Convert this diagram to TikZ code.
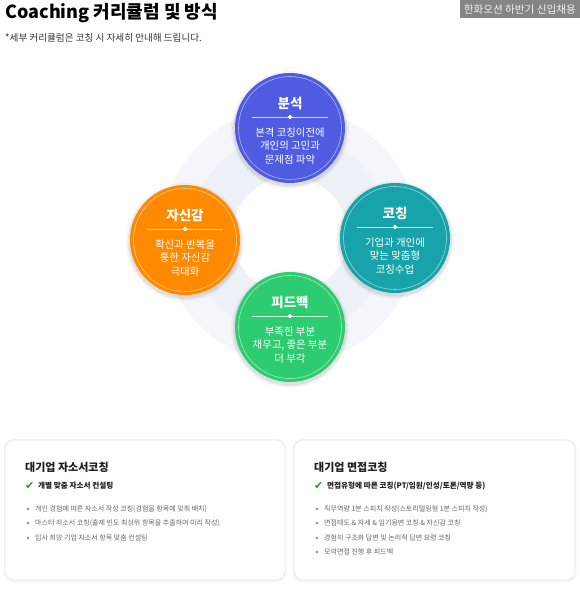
\documentclass[tikz,border=0pt]{standalone}
\usepackage{fontspec}
\setmainfont{Noto Sans CJK KR}
\newfontfamily\dejavu{DejaVu Sans}
\usetikzlibrary{shapes.geometric}
\definecolor{cblue}{HTML}{4F5CE2}
\definecolor{corange}{HTML}{FF8A00}
\definecolor{cteal}{HTML}{17A3A9}
\definecolor{cgreen}{HTML}{2ECC71}
\definecolor{ringout}{HTML}{F4F6FB}
\definecolor{ringin}{HTML}{EDF1F8}
\definecolor{txtdark}{HTML}{1E1E1E}
\definecolor{txtgrey}{HTML}{666666}
\definecolor{chk}{HTML}{2E9B2E}
\tikzset{
  bubble/.style={circle, minimum size=110pt, inner sep=0pt, draw=none},
  btitle/.style={text=white, font=\fontsize{13.5}{15}\selectfont\bfseries, inner sep=0pt},
  bbody/.style={text=white, font=\fontsize{10.4}{13.4}\selectfont, align=center, inner sep=0pt},
  card/.style={draw=black!9, fill=white, rounded corners=9pt, line width=0.7pt},
  chead/.style={anchor=west, text=txtdark, font=\fontsize{11}{13}\selectfont\bfseries, inner sep=0pt},
  ccheck/.style={anchor=west, text=txtdark, font=\fontsize{7.6}{9}\selectfont\bfseries, inner sep=0pt},
  cbullet/.style={anchor=west, text=txtgrey, font=\fontsize{7}{9}\selectfont, inner sep=0pt},
  dotmark/.style={circle, fill=black!45, minimum size=2.6pt, inner sep=0pt},
  chkmark/.style={anchor=west, inner sep=0pt, text=chk, font=\dejavu\fontsize{11}{12}\selectfont},
}
\newcommand{\mybubble}[6]{%
  \foreach \r/\o in {59/0.03,57.5/0.04,56.5/0.05} {\fill[black, opacity=\o] (#3,#4+2) circle[radius=\r pt];}
  \node[bubble, fill=#2] (#1) at (#3,#4) {};
  \draw[white, opacity=0.55, line width=0.6pt] (#1.center) circle[radius=51.5pt];
  \node[btitle] (#1t) at (#3,#4-25) {#5};
  \coordinate (#1l) at (#3-38,#4-11);
  \coordinate (#1r) at (#3+38,#4-11);
  \draw[white, opacity=0.8, line width=0.5pt] (#1l) -- (#1r);
  \node[fill=white, diamond, inner sep=0pt, minimum size=5pt] (#1d) at (#3,#4-11) {};
  \node[bbody] (#1b) at (#3,#4+18) {#6};
}
\begin{document}
\begin{tikzpicture}[x=1pt, y=-1pt]
\useasboundingbox (0,0) rectangle (580,589);
\fill[white] (0,0) rectangle (580,589);
% header
\node[anchor=west, inner sep=0pt, text=black, font=\fontsize{18}{20}\selectfont\bfseries] (title) at (5,13) {Coaching 커리큘럼 및 방식};
\node[anchor=west, inner sep=0pt, text=black!80, font=\fontsize{9.6}{11}\selectfont] (sub) at (5,38) {*세부 커리큘럼은 코칭 시 자세히 안내해 드립니다.};
\node[anchor=north east, fill=black!48, text=black!6, inner xsep=4pt, inner ysep=0pt, minimum height=18pt, font=\fontsize{10.6}{12}\selectfont] (wm) at (580,0) {한화오션 하반기 신입채용};
% ring
\fill[ringout] (290,235) circle[radius=128pt];
\fill[ringin] (290,235) circle[radius=100pt];
\fill[white] (290,235) circle[radius=58pt];
% bubbles
\mybubble{ana}{cblue}{290}{128}{분석}{본격 코칭이전에\\개인의 고민과\\문제점 파악}
\mybubble{conf}{corange}{185}{240}{자신감}{확신과 반복을\\통한 자신감\\극대화}
\mybubble{coach}{cteal}{395}{238}{코칭}{기업과 개인에\\맞는 맞춤형\\코칭수업}
\mybubble{fb}{cgreen}{290}{327}{피드백}{부족한 부분\\채우고, 좋은 부분\\더 부각}
% cards
\foreach \xa/\xb in {5/285,294/575} {
  \fill[black, opacity=0.03, rounded corners=10pt] (\xa-1.5,439) rectangle (\xb+1.5,582.5);
}
\path[card] (5,440) rectangle (285,580);
\path[card] (294,440) rectangle (575,580);
\node[chead] (h1) at (25,467) {대기업 자소서코칭};
\node[chkmark] (k1) at (25,486) {✔};
\node[ccheck] (c1) at (38,486) {개별 맞춤 자소서 컨설팅};
\node[dotmark] (d11) at (28,509) {};
\node[cbullet] (b11) at (35,509) {개인 경험에 따른 자소서 작성 코칭(경험을 항목에 맞춰 배치)};
\node[dotmark] (d12) at (28,523) {};
\node[cbullet] (b12) at (35,523) {마스터 자소서 코칭(출제 빈도 최상위 항목을 추출하여 미리 작성)};
\node[dotmark] (d13) at (28,538) {};
\node[cbullet] (b13) at (35,538) {입사 희망 기업 자소서 항목 맞춤 컨설팅};
\node[chead] (h2) at (314,467) {대기업 면접코칭};
\node[chkmark] (k2) at (314,486) {✔};
\node[ccheck] (c2) at (327,486) {면접유형에 따른 코칭(PT/임원/인성/토론/역량 등)};
\node[dotmark] (d21) at (317,509) {};
\node[cbullet] (b21) at (324,509) {직무역량 1분 스피치 작성(스토리텔링형 1분 스피치 작성)};
\node[dotmark] (d22) at (317,523) {};
\node[cbullet] (b22) at (324,523) {면접태도 \& 자세 \& 임기응변 코칭 \& 자신감 코칭};
\node[dotmark] (d23) at (317,538) {};
\node[cbullet] (b23) at (324,538) {경험의 구조화 답변 및 논리적 답변 요령 코칭};
\node[dotmark] (d24) at (317,552) {};
\node[cbullet] (b24) at (324,552) {모의면접 진행 후 피드백};
\end{tikzpicture}
\end{document}
